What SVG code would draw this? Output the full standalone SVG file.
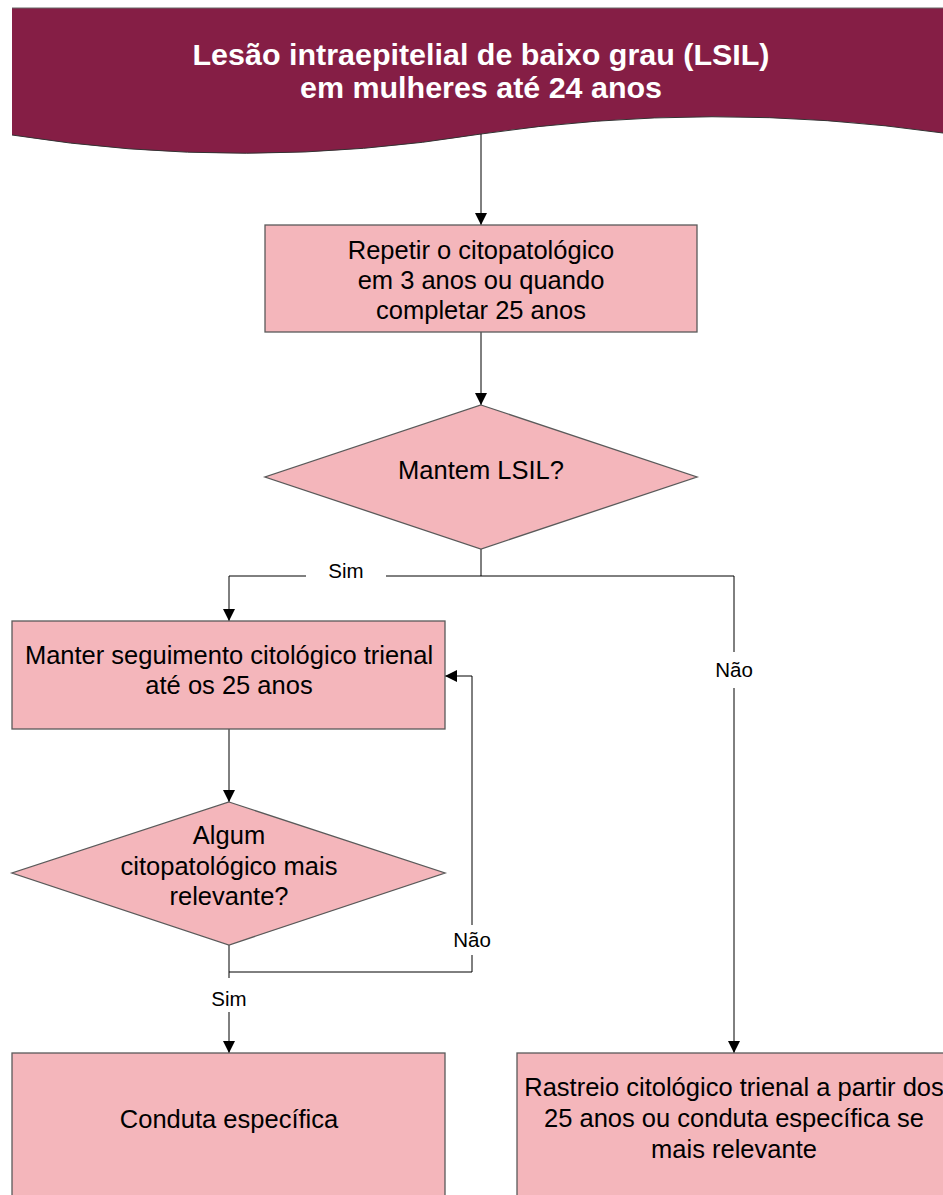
<svg xmlns="http://www.w3.org/2000/svg" width="943" height="1195" viewBox="0 0 943 1195">
<style>
.box{fill:#F4B6BB;stroke:#5a5a5a;stroke-width:1.3}
.t{font-family:"Liberation Sans",Arial,sans-serif;font-size:25.5px;fill:#000;text-anchor:middle}
.lbl{font-family:"Liberation Sans",Arial,sans-serif;font-size:20.5px;fill:#000;text-anchor:middle}
.h{font-family:"Liberation Sans",Arial,sans-serif;font-size:29px;font-weight:bold;fill:#fff;text-anchor:middle}
.c{fill:none;stroke:#000;stroke-width:1}
</style>
<defs>
<marker id="ah" viewBox="0 0 12 12" refX="12" refY="6" markerWidth="12" markerHeight="12" markerUnits="userSpaceOnUse" orient="auto">
<path d="M0,0 L12,6 L0,12 z" fill="#000"/>
</marker>
</defs>
<rect width="943" height="1195" fill="#fff"/>
<g id="header">
<path d="M12,8 L943,8 L943,133 Q712,100 481,134 Q246,172 12,135 Z" fill="#851E45"/>
<line x1="12" y1="8" x2="943" y2="8" stroke="#666" stroke-width="1"/>
<path d="M943,133 Q712,100 481,134 Q246,172 12,135" fill="none" stroke="#333" stroke-width="1"/>
<text class="h" x="481" y="65" textLength="577" lengthAdjust="spacingAndGlyphs">Lesão intraepitelial de baixo grau (LSIL)</text>
<text class="h" x="481" y="98" textLength="362" lengthAdjust="spacingAndGlyphs">em mulheres até 24 anos</text>
</g>
<g id="connectors">
<path class="c" d="M481,134 V225" marker-end="url(#ah)"/>
<path class="c" d="M481,332 V405" marker-end="url(#ah)"/>
<path class="c" d="M481,549 V576 H386"/>
<path class="c" d="M306,576 H229 V621" marker-end="url(#ah)"/>
<path class="c" d="M481,576 H734 V652"/>
<path class="c" d="M734,688 V1053" marker-end="url(#ah)"/>
<path class="c" d="M229,729 V802" marker-end="url(#ah)"/>
<path class="c" d="M229,945 V978"/>
<path class="c" d="M229,1012 V1053" marker-end="url(#ah)"/>
<path class="c" d="M229,972 H472 V955"/>
<path class="c" d="M472,925 V676 H445" marker-end="url(#ah)"/>
<text class="lbl" x="346" y="578">Sim</text>
<text class="lbl" x="734" y="677">Não</text>
<text class="lbl" x="472" y="947">Não</text>
<text class="lbl" x="229" y="1006">Sim</text>
</g>
<g id="box1">
<rect class="box" x="265" y="225" width="432" height="107"/>
<text class="t" x="481" y="259">Repetir o citopatológico</text>
<text class="t" x="481" y="289">em 3 anos ou quando</text>
<text class="t" x="481" y="319">completar 25 anos</text>
</g>
<g id="decision1">
<polygon class="box" points="481,405 697,477 481,549 265,477"/>
<text class="t" x="481" y="479">Mantem LSIL?</text>
</g>
<g id="box2">
<rect class="box" x="12" y="621" width="433" height="108"/>
<text class="t" x="229" y="664">Manter seguimento citológico trienal</text>
<text class="t" x="229" y="694">até os 25 anos</text>
</g>
<g id="decision2">
<polygon class="box" points="229,802 445,873 229,945 12,873"/>
<text class="t" x="229" y="844">Algum</text>
<text class="t" x="229" y="875">citopatológico mais</text>
<text class="t" x="229" y="905">relevante?</text>
</g>
<g id="box3">
<rect class="box" x="12" y="1053" width="433" height="160"/>
<text class="t" x="229" y="1128">Conduta específica</text>
</g>
<g id="box4">
<rect class="box" x="517" y="1053" width="434" height="160"/>
<text class="t" x="734" y="1096">Rastreio citológico trienal a partir dos</text>
<text class="t" x="734" y="1127">25 anos ou conduta específica se</text>
<text class="t" x="734" y="1158">mais relevante</text>
</g>
</svg>
